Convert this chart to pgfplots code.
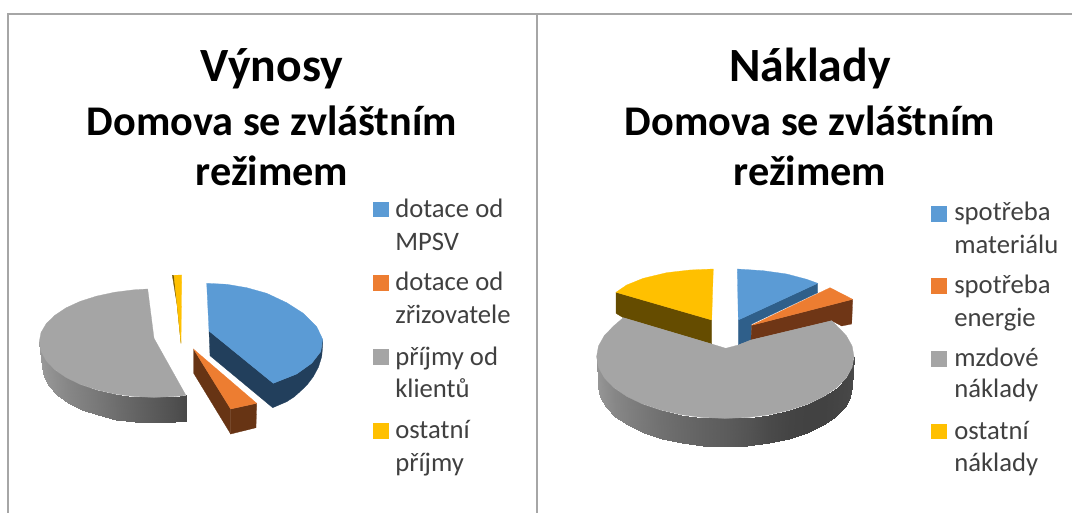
\documentclass[border=0pt]{standalone}
\usepackage{pgfplots}
\pgfplotsset{compat=1.18}
\usepackage{fontspec}
\setmainfont{Carlito}
\definecolor{bl}{HTML}{5B9BD5}
\definecolor{or}{HTML}{ED7D31}
\definecolor{gr}{HTML}{A5A5A5}
\definecolor{ye}{HTML}{FFC000}
\definecolor{blsA}{HTML}{223F5C}
\definecolor{blsB}{HTML}{2F5F8A}
\definecolor{orsA}{HTML}{673414}
\definecolor{orsB}{HTML}{6F3616}
\definecolor{yesA}{HTML}{7A5C00}
\definecolor{yesB}{HTML}{654C00}
\definecolor{frame}{HTML}{A6A6A6}
\definecolor{lg}{HTML}{404040}
\newcommand{\poly}[2]{\addplot[fill=#1,draw=#1,line width=0.2pt] coordinates {#2} -- cycle;}
\newcommand{\ttl}[3]{\node[anchor=base,font=\bfseries\fontsize{#3}{#3}\selectfont,black,inner sep=0pt] at (axis cs:#1) {#2};}
\newcommand{\lgt}[2]{\node[anchor=base west,font=\fontsize{20}{20}\selectfont,text=lg,inner sep=0pt] at (axis cs:#1) {#2};}
\begin{document}
\begin{tikzpicture}
\useasboundingbox (0,0) rectangle (804pt,384.75pt);
\begin{axis}[at={(0,0)},anchor=south west,scale only axis,width=804pt,height=384.75pt,
  xmin=0,xmax=1072,ymin=0,ymax=513,y dir=reverse,hide axis,clip=true,
  colormap={g}{color(0cm)=(black); color(1cm)=(white)},point meta min=0,point meta max=255]
% frames
\addplot[frame,line width=1.4pt] coordinates {(8,513)(8,14)(1072,14)};
\addplot[frame,line width=1.6pt] coordinates {(537,14)(537,513)};
% ---- left pie
\poly{yesA}{(172.3,275.3)(174,275.3)(181,343.3)(180,323)}
\poly{ye}{(174,275.3)(181.7,275)(181,343.3)}
\addplot[patch,patch type=rectangle,shader=interp,point meta=\thisrow{c}] table {
x y c
39.3 341.7 155
41.0 351.4 152
43.7 376.7 152
42 367 155
41.0 351.4 152
46.2 360.7 148
48.8 386.2 148
43.7 376.7 152
46.2 360.7 148
54.7 369.6 142
57.1 395 142
48.8 386.2 148
54.7 369.6 142
66.1 377.5 135
68.4 403 135
57.1 395 142
66.1 377.5 135
80.3 384.4 128
82.4 409.9 128
68.4 403 135
80.3 384.4 128
96.7 389.9 120
98.5 415.5 120
82.4 409.9 128
96.7 389.9 120
114.8 394.0 110
116.4 419.6 110
98.5 415.5 120
114.8 394.0 110
134.1 396.5 100
135.4 422.1 100
116.4 419.6 110
134.1 396.5 100
154 397.4 90
155 423 90
135.4 422.1 100
154 397.4 90
173.9 396.5 80
174.6 422.1 80
155 423 90
173.9 396.5 80
186 395.5 72
186.4 421 72
174.6 422.1 80
};
\poly{gr}{(147.7,289)(134.1,289.8)(114.8,292.2)(96.7,296.1)(80.3,301.3)(66.1,307.8)(54.7,315.4)(46.2,323.7)(41,332.6)(39.3,341.7)(41,351.4)(46.2,360.7)(54.7,369.6)(66.1,377.5)(80.3,384.4)(96.7,389.9)(114.8,394)(134.1,396.5)(154,397.4)(173.9,396.5)(186,395.5)(154,338.3)}
\poly{blsA}{(209,331)(273.3,383.3)(296.7,374)(311.7,363.3)(320.7,351.7)(322.7,339.3)(322.5,348)(321.7,356.7)(318.5,367)(313.3,376.7)(307,385)(300,391.7)(294,397)(286.7,401.7)(272.7,407.7)(210,355.7)}
\poly{bl}{(206.7,283.3)(226.7,284.3)(246.7,287.7)(266.7,293.3)(286.7,302.7)(303.3,313.3)(316.7,326.7)(322.7,339.3)(320.7,351.7)(311.7,363.3)(296.7,374)(273.3,383.3)(209,331)}
\poly{orsA}{(193.7,349.3)(230.7,409)(230.7,434)(193.7,373.3)}
\poly{orsA}{(230.7,409)(256.7,403.3)(256,427.7)(230.7,434)}
\poly{or}{(193.7,349.3)(230.7,409)(256.7,403.3)}
% ---- right pie
\poly{blsB}{(738.3,320)(817.7,283.3)(817.7,292.7)(751.7,324)(751,340)(738.3,345)}
\poly{bl}{(737.3,269)(763.3,270.7)(786.7,274)(806.7,279.3)(817.7,283.3)(738.3,320)}
\poly{orsB}{(751.7,325.3)(852.7,299.3)(851.7,324)(841.7,326)(831.7,320.7)(751,340)}
\poly{or}{(751.7,325.3)(830,287.7)(852.7,299.3)}
\poly{yesB}{(616,292.3)(711.7,320)(711.7,344)(623.3,317.7)(616,313.3)}
\poly{ye}{(713.3,269)(690,270)(666.7,272.7)(643.3,278.3)(626.7,285)(616,292.3)(711.7,320)}
\addplot[patch,patch type=rectangle,shader=interp,point meta=\thisrow{c}] table {
x y c
596.6 356.7 150
598.5 367.4 148
600.2 397.1 148
598.3 386.7 150
598.5 367.4 148
604.3 377.8 143
605.9 407.2 143
600.2 397.1 148
604.3 377.8 143
613.8 387.6 135
615.3 416.7 135
605.9 407.2 143
613.8 387.6 135
626.7 396.4 128
628.0 425.3 128
615.3 416.7 135
626.7 396.4 128
642.5 404.0 120
643.7 432.7 120
628.0 425.3 128
642.5 404.0 120
660.9 410.1 112
661.8 438.7 112
643.7 432.7 120
660.9 410.1 112
681.3 414.7 105
681.9 443.1 105
661.8 438.7 112
681.3 414.7 105
702.9 417.5 98
703.2 445.8 98
681.9 443.1 105
702.9 417.5 98
725.3 418.4 92
725.3 446.7 92
703.2 445.8 98
725.3 418.4 92
747.7 417.5 84
747.4 445.8 84
725.3 446.7 92
747.7 417.5 84
769.3 414.7 74
768.7 443.1 74
747.4 445.8 84
769.3 414.7 74
789.7 410.1 68
788.8 438.7 68
768.7 443.1 74
789.7 410.1 68
808.1 404.0 66
806.9 432.7 66
788.8 438.7 68
808.1 404.0 66
823.9 396.4 66
822.6 425.3 66
806.9 432.7 66
823.9 396.4 66
836.8 387.6 68
835.3 416.7 68
822.6 425.3 66
836.8 387.6 68
846.3 377.8 70
844.7 407.2 70
835.3 416.7 68
846.3 377.8 70
852.1 367.4 72
850.4 397.1 72
844.7 407.2 70
852.1 367.4 72
854 356.7 74
852.3 386.7 74
850.4 397.1 72
};
\poly{gr}{(725.7,348.3)(711.7,344)(623.3,317.7)(613.8,325.8)(604.3,335.6)(598.5,346)(596.6,356.7)(598.5,367.4)(604.3,377.8)(613.8,387.6)(626.7,396.4)(642.5,404)(660.9,410.1)(681.3,414.7)(702.9,417.5)(725.3,418.4)(747.7,417.5)(769.3,414.7)(789.7,410.1)(808.1,404)(823.9,396.4)(836.8,387.6)(846.3,377.8)(852.1,367.4)(854,356.7)(852.1,346)(846.3,335.6)(836.8,325.8)(831.7,320.7)(751,340)(738.3,345)}
% swatches
\poly{bl}{(373,202)(388,202)(388,216)(373,216)}
\poly{or}{(373,275)(388,275)(388,290)(373,290)}
\poly{gr}{(373,349)(388,349)(388,364)(373,364)}
\poly{ye}{(373,423)(388,423)(388,438)(373,438)}
\poly{bl}{(931,206)(946,206)(946,221)(931,221)}
\poly{or}{(931,278)(946,278)(946,293)(931,293)}
\poly{gr}{(931,351)(946,351)(946,366)(931,366)}
\poly{ye}{(931,424)(946,424)(946,438)(931,438)}
% titles
\ttl{272,82}{Výnosy}{35.8}
\ttl{272,136}{Domova se zvláštním}{31.7}
\ttl{272,186}{režimem}{31.7}
\ttl{810,82}{Náklady}{35.8}
\ttl{810,136}{Domova se zvláštním}{31.7}
\ttl{810,186}{režimem}{31.7}
% legends
\lgt{395,218}{dotace od}
\lgt{395,251}{MPSV}
\lgt{395,291}{dotace od}
\lgt{395,324}{zřizovatele}
\lgt{395,366}{příjmy od}
\lgt{395,398}{klientů}
\lgt{395,439}{ostatní}
\lgt{395,471}{příjmy}
\lgt{954,221}{spotřeba}
\lgt{954,254}{materiálu}
\lgt{954,294}{spotřeba}
\lgt{954,327}{energie}
\lgt{954,367}{mzdové}
\lgt{954,398}{náklady}
\lgt{954,440}{ostatní}
\lgt{954,472}{náklady}
\end{axis}
\end{tikzpicture}
\end{document}
